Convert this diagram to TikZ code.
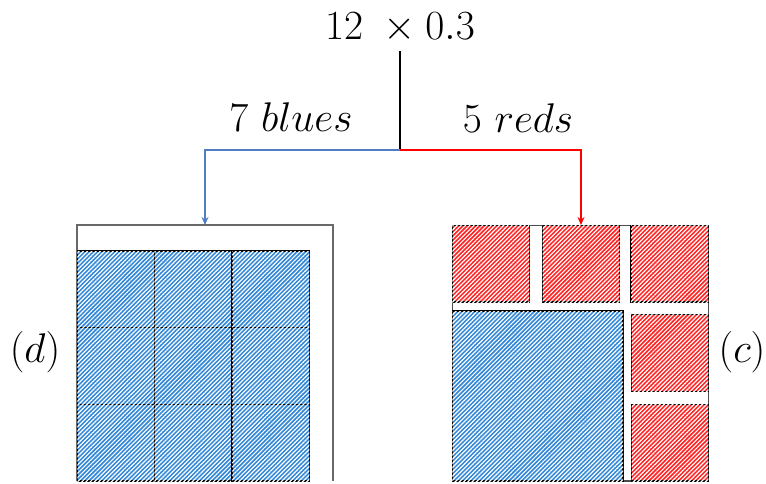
\documentclass[tikz,border=0pt]{standalone}
\usetikzlibrary{patterns.meta,arrows.meta}
\definecolor{bluefill}{RGB}{50,135,215}
\definecolor{redfill}{RGB}{255,35,35}
\definecolor{bluearrow}{RGB}{80,125,195}
\definecolor{framegray}{RGB}{105,105,105}
\tikzset{
  bluecell/.style={fill=bluefill, postaction={pattern={Lines[angle=45,distance=1.5pt,line width=0.6pt]}, pattern color=white}, draw=black, line width=0.7pt},
  redcell/.style={fill=redfill, postaction={pattern={Lines[angle=45,distance=1.5pt,line width=0.6pt]}, pattern color=white}, draw=black, line width=0.6pt},
  bigfont/.style={font=\fontsize{21}{24}\selectfont, inner sep=0pt},
  conn/.style={line width=0.6pt, -{Stealth[length=4pt,width=3.5pt]}},
}
\begin{document}
\begin{tikzpicture}[x=0.5pt,y=-0.5pt]
\useasboundingbox (0,0) rectangle (766,483);
% texts
\node[bigfont] (title) at (400,28) {$12\;\times 0.3$};
\node[bigfont] (blues) at (291,117) {$7\ blues$};
\node[bigfont] (reds) at (518,118) {$5\ reds$};
\node[bigfont] (d) at (35,352) {$(d)$};
\node[bigfont] (c) at (742,352) {$(c)$};
% connectors
\coordinate (stemtop) at (400,51);
\coordinate (j) at (400,150);
\coordinate (ltop) at (205,225);
\coordinate (rtop) at (581,225);
\draw[line width=0.6pt] (stemtop) -- (j);
\draw[conn, bluearrow] (j) -| (ltop);
\draw[conn, red] (j) -| (rtop);
% left box
\draw[framegray, line width=1pt] (77.3,481) -- (77.3,225.3) -- (332.7,225.3) -- (332.7,481);
\foreach \i/\xa/\xb in {0/77.3/154.3, 1/154.3/232, 2/232/309.3}{
  \foreach \j/\ya/\yb in {0/251/327.7, 1/327.7/404.3, 2/404.3/481}{
    \draw[bluecell] (\xa,\ya) rectangle (\xb,\yb);
  }
}
% right box
\draw[black!70, line width=0.6pt] (452.3,225.3) rectangle (708.3,481);
\draw[redcell] (452.3,225.3) rectangle (529.3,302);
\draw[redcell] (542.7,225.3) rectangle (619.7,302);
\draw[redcell] (631,225.3) rectangle (708.3,302);
\draw[bluecell, line width=0.6pt] (452.3,311) rectangle (623,481);
\draw[redcell] (631.7,314.7) rectangle (708.3,391.7);
\draw[redcell] (631.7,404.3) rectangle (708.3,481);
\end{tikzpicture}
\end{document}
